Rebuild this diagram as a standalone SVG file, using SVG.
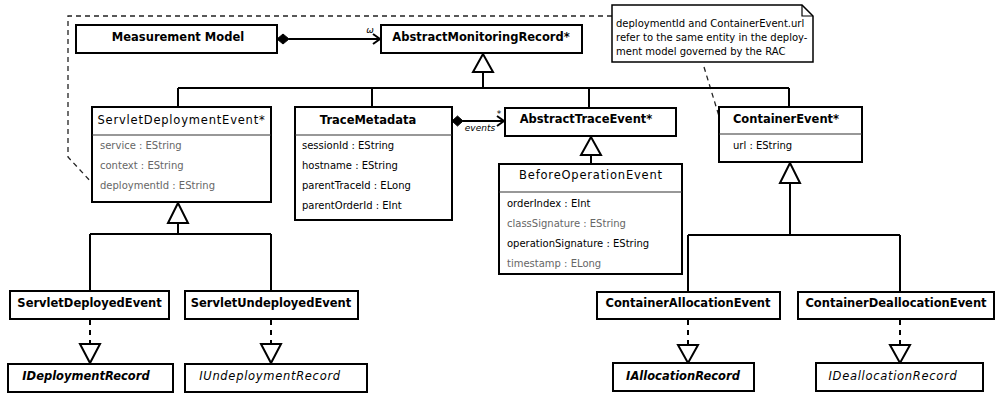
<svg xmlns="http://www.w3.org/2000/svg" width="996" height="394" viewBox="0 0 996 394">
<style>
text{font-family:"DejaVu Sans","Liberation Sans",sans-serif;fill:#000}
.box{fill:#fff;stroke:#000;stroke-width:2}
.div{stroke:#333;stroke-width:1.2}
.t{font-size:11.5px;font-weight:bold;text-anchor:middle}
.tn{font-size:11.5px;text-anchor:middle;letter-spacing:0.8px}
.ti{font-size:11.5px;font-weight:bold;font-style:italic;text-anchor:middle}
.tin{font-size:11.5px;font-style:italic;text-anchor:middle;letter-spacing:0.7px}
.a{font-size:10px}
.g{fill:#666}
.lbl{font-size:9px;font-style:italic}
.note{font-size:10px}
.ln{fill:none;stroke:#000;stroke-width:2}
.dash{fill:none;stroke:#000;stroke-width:2;stroke-dasharray:5 5}
.ndash{fill:none;stroke:#222;stroke-width:1.3;stroke-dasharray:5 4}
.tri{fill:#fff;stroke:#000;stroke-width:2}
</style>
<g id="connectors">
<path class="ndash" d="M612 16 H68 V157 L93 184"/>
<path class="ndash" d="M704 67 L729 149"/>
<path class="ln" d="M289 39 H380"/>
<path d="M277 39 L283 34 L289 39 L283 44 Z" fill="#000" stroke="#000" stroke-width="1"/>
<path class="ln" d="M373 34 L380 39 L373 44"/>
<text x="370" y="33" class="lbl" text-anchor="middle">ω</text>
<path class="ln" d="M483 72 V88 M178 88 H789 M178 88 V107 M372 88 V107 M589 88 V108 M789 88 V107"/>
<path class="tri" d="M483 54 L473 72 L493 72 Z"/>
<path class="ln" d="M463 121 H504"/>
<path d="M452 121 L457.5 116 L463 121 L457.5 126 Z" fill="#000" stroke="#000" stroke-width="1"/>
<path class="ln" d="M497 116 L504 121 L497 126"/>
<text x="499" y="117" class="lbl" text-anchor="middle">*</text>
<text x="480" y="131" class="lbl" text-anchor="middle">events</text>
<path class="ln" d="M591 155 V164"/>
<path class="tri" d="M591 137 L581 155 L601 155 Z"/>
<path class="ln" d="M790 183 V235 M688 235 H900 M688 235 V292 M900 235 V292"/>
<path class="tri" d="M790 163 L780 183 L800 183 Z"/>
<path class="ln" d="M178 223 V234 M90 234 H271 M90 234 V291 M271 234 V291"/>
<path class="tri" d="M178 203 L168 223 L188 223 Z"/>
<path class="dash" d="M90 320 V344 M271 320 V344 M688 320 V345 M900 320 V345"/>
<path class="tri" d="M80 344 L100 344 L90 363 Z"/>
<path class="tri" d="M261 344 L281 344 L271 363 Z"/>
<path class="tri" d="M678 345 L698 345 L688 363 Z"/>
<path class="tri" d="M890 345 L910 345 L900 363 Z"/>
</g>
<g id="note">
<path d="M612 5 H802 L813 16 V62 H612 Z" fill="#fff" stroke="#000" stroke-width="1.5"/>
<path d="M802 5 V16 H813" fill="none" stroke="#000" stroke-width="1.2"/>
<text x="616" y="27" class="note">deploymentId and ContainerEvent.url</text>
<text x="616" y="41" class="note">refer to the same entity in the deploy-</text>
<text x="616" y="55" class="note">ment model governed by the RAC</text>
</g>
<g id="MeasurementModel">
<rect class="box" x="76" y="25" width="201" height="28"/>
<text x="178" y="41" class="t">Measurement Model</text>
</g>
<g id="AbstractMonitoringRecord">
<rect class="box" x="381" y="25" width="201" height="28"/>
<text x="481" y="41" class="t">AbstractMonitoringRecord*</text>
</g>
<g id="ServletDeploymentEvent">
<rect class="box" x="92" y="107" width="179" height="95"/>
<line class="div" x1="92" y1="135" x2="271" y2="135"/>
<text x="181.5" y="124" class="tn">ServletDeploymentEvent*</text>
<text x="100" y="149" class="a g">service : EString</text>
<text x="100" y="169" class="a g">context : EString</text>
<text x="100" y="189" class="a g">deploymentId : EString</text>
</g>
<g id="TraceMetadata">
<rect class="box" x="295" y="107" width="157" height="113"/>
<line class="div" x1="295" y1="135" x2="452" y2="135"/>
<text x="368" y="124" class="t">TraceMetadata</text>
<text x="302" y="149" class="a">sessionId : EString</text>
<text x="302" y="169" class="a">hostname : EString</text>
<text x="302" y="189" class="a">parentTraceId : ELong</text>
<text x="302" y="209" class="a">parentOrderId : EInt</text>
</g>
<g id="AbstractTraceEvent">
<rect class="box" x="505" y="108" width="171" height="28"/>
<text x="586" y="123" class="t">AbstractTraceEvent*</text>
</g>
<g id="BeforeOperationEvent">
<rect class="box" x="499" y="164" width="183" height="110"/>
<line class="div" x1="499" y1="192" x2="682" y2="192"/>
<text x="591" y="179" class="tn">BeforeOperationEvent</text>
<text x="507" y="207" class="a">orderIndex : EInt</text>
<text x="507" y="227" class="a g">classSignature : EString</text>
<text x="507" y="247" class="a">operationSignature : EString</text>
<text x="507" y="267" class="a g">timestamp : ELong</text>
</g>
<g id="ContainerEvent">
<rect class="box" x="719" y="107" width="143" height="55"/>
<line class="div" x1="719" y1="134" x2="862" y2="134"/>
<text x="786" y="122.5" class="t">ContainerEvent*</text>
<text x="733" y="149" class="a">url : EString</text>
</g>
<g id="ServletDeployedEvent">
<rect class="box" x="10" y="291" width="159" height="28"/>
<text x="89.5" y="307" class="t">ServletDeployedEvent</text>
</g>
<g id="ServletUndeployedEvent">
<rect class="box" x="185" y="291" width="173" height="28"/>
<text x="271" y="307" class="t">ServletUndeployedEvent</text>
</g>
<g id="ContainerAllocationEvent">
<rect class="box" x="597" y="292" width="183" height="27"/>
<text x="688" y="307" class="t">ContainerAllocationEvent</text>
</g>
<g id="ContainerDeallocationEvent">
<rect class="box" x="798" y="292" width="196" height="27"/>
<text x="896" y="307" class="t">ContainerDeallocationEvent</text>
</g>
<g id="IDeploymentRecord">
<rect class="box" x="8" y="364" width="165" height="28"/>
<text x="86" y="380" class="ti">IDeploymentRecord</text>
</g>
<g id="IUndeploymentRecord">
<rect class="box" x="185" y="364" width="182" height="28"/>
<text x="270" y="380" class="tin">IUndeploymentRecord</text>
</g>
<g id="IAllocationRecord">
<rect class="box" x="613" y="363" width="141" height="28"/>
<text x="683" y="380" class="ti">IAllocationRecord</text>
</g>
<g id="IDeallocationRecord">
<rect class="box" x="816" y="363" width="167" height="28"/>
<text x="893" y="380" class="tin">IDeallocationRecord</text>
</g>
</svg>
